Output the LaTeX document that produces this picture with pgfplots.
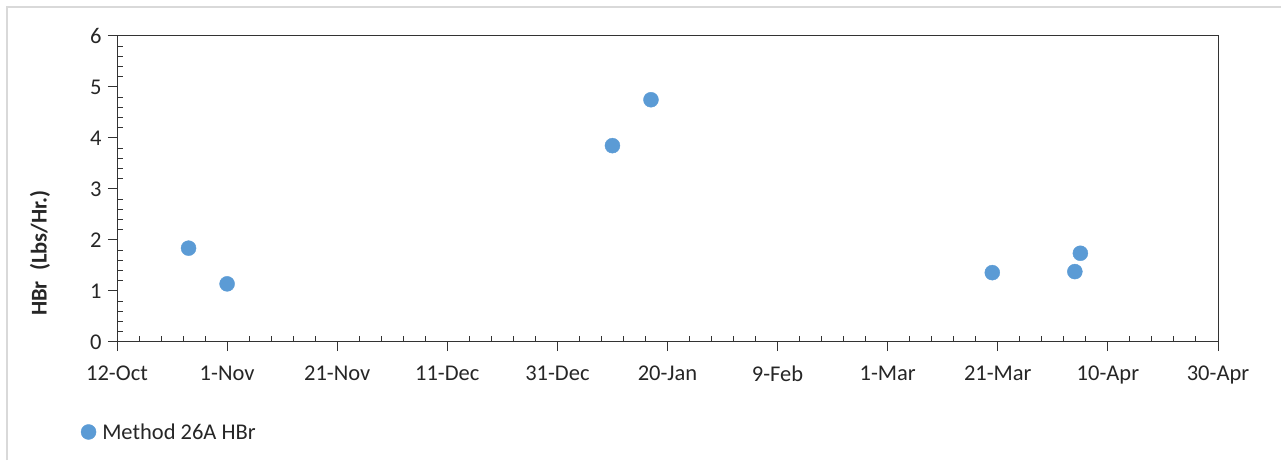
\documentclass[border=0pt]{standalone}
\usepackage{pgfplots}
\pgfplotsset{compat=1.18}
\usepackage{fontspec}
\setmainfont{Carlito}
\definecolor{ptblue}{HTML}{5B9BD5}
\definecolor{framegray}{HTML}{D9D9D9}
\definecolor{txt}{HTML}{262626}
\begin{document}
\begin{tikzpicture}[x=1pt,y=1pt]
\path[use as bounding box] (0,0) rectangle (1281,460);
\draw[framegray, line width=2pt] (7,0) -- (7,453) -- (1281,453);
\begin{axis}[
  at={(117pt,118pt)}, anchor=south west,
  scale only axis, width=1101pt, height=306pt,
  xmin=0, xmax=200, ymin=0, ymax=6,
  xtick={0,20,...,200},
  xticklabels={12-Oct,1-Nov,21-Nov,11-Dec,31-Dec,20-Jan,9-Feb,1-Mar,21-Mar,10-Apr,30-Apr},
  ytick={0,1,...,6},
  minor x tick num=4, minor y tick num=4,
  tick pos=left, tick align=outside,
  major tick length=9pt, minor tick length=-5.5pt,
  axis line style={black!80, line width=1pt},
  every tick/.style={black!80, line width=1pt},
  font=\fontsize{22.5}{26}\selectfont,
  tick label style={txt, font=\fontsize{22.5}{26}\selectfont},
  /pgf/number format/assume math mode=true,
  xticklabel style={yshift=-11pt},
  yticklabel style={xshift=-3pt},
  ylabel={\textbf{HBr\ \ (Lbs/Hr.)}},
  ylabel style={at={(axis description cs:-0.07,0.29)}, anchor=center, txt, font=\fontsize{22.5}{26}\selectfont},
  legend style={at={(axis description cs:-0.033,-0.294)}, anchor=west, draw=none, fill=none,
    font=\fontsize{22.5}{26}\selectfont, text=txt, inner sep=0pt},
  legend image code/.code={\fill[ptblue] (0.3em,0) circle (7.5pt);},
]
\addplot[only marks, color=ptblue, mark=*, mark size=7.5pt, mark options={draw=ptblue, fill=ptblue}]
  coordinates {(13,1.84) (20,1.14) (90,3.85) (97,4.75) (159,1.36) (174,1.38) (175,1.74)};
\addlegendentry{\hspace{4pt}Method 26A HBr}
\end{axis}
\end{tikzpicture}
\end{document}
